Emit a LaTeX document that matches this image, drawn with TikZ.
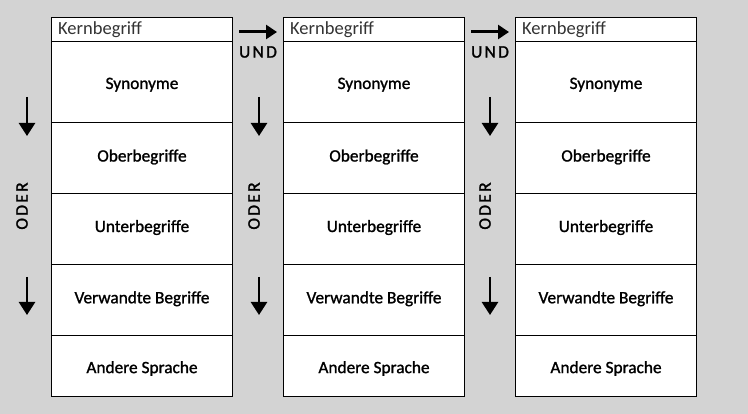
\documentclass[tikz,border=0pt]{standalone}
\usepackage{fontspec}
\setmainfont{Carlito}
\newfontfamily\semibold[FakeBold=1.2]{Carlito}
\newfontfamily\spacedfont[FakeBold=1.5,LetterSpace=13]{Carlito}
\usetikzlibrary{arrows.meta,calc}
\definecolor{bggray}{RGB}{211,211,211}
\tikzset{
  cell/.style={draw=black, line width=1pt, fill=white, anchor=north west, inner sep=0pt, minimum width=181pt},
  headcell/.style={cell, minimum height=23.5pt},
  celltext/.style={font=\semibold\fontsize{17.3}{19}\selectfont, inner sep=0pt},
  headtext/.style={anchor=west, inner sep=0pt, text=black!80, font=\fontsize{18.5}{20}\selectfont},
  rarrow/.style={line width=3pt, -{Triangle[length=11pt,width=14pt]}},
  darrow/.style={line width=2.6pt, -{Triangle[length=13pt,width=16pt]}},
  spaced/.style={font=\spacedfont\fontsize{17.5}{19}\selectfont, inner sep=0pt},
}
\begin{document}
\begin{tikzpicture}[x=1pt, y=-1pt]
\fill[bggray] (0,0) rectangle (748,414);
\useasboundingbox (0,0) rectangle (748,414);
\foreach \c/\xx in {a/51, b/283, c/515} {
  \node[headcell] (\c0) at (\xx,17.5) {};
  \node[headtext] (\c0t) at ([xshift=7pt,yshift=0.5pt]\c0.west) {Kernbegriff};
  \node[cell, minimum height=81.5pt] (\c1) at (\xx,41) {};
  \node[cell, minimum height=71pt] (\c2) at (\xx,122.5) {};
  \node[cell, minimum height=71pt] (\c3) at (\xx,193.5) {};
  \node[cell, minimum height=71.5pt] (\c4) at (\xx,264.5) {};
  \node[cell, minimum height=61pt] (\c5) at (\xx,335.5) {};
  \node[celltext] (\c1t) at ([yshift=-2.5pt]\c1.center) {Synonyme};
  \node[celltext] (\c2t) at ([yshift=1.5pt]\c2.center) {Oberbegriffe};
  \node[celltext] (\c3t) at ([yshift=2pt]\c3.center) {Unterbegriffe};
  \node[celltext] (\c4t) at ([yshift=2pt]\c4.center) {Verwandte Begriffe};
  \node[celltext] (\c5t) at ([yshift=-2pt]\c5.center) {Andere Sprache};
}
% right arrows with UND
\foreach \n/\xs/\xe in {p/239/277, q/471/509} {
  \coordinate (\n s) at (\xs,32);
  \coordinate (\n e) at (\xe,32);
  \draw[rarrow] (\n s) -- (\n e);
  \node[spaced] (\n u) at ($(\xs,52)!0.5!(\xe,52)$) {UND};
}
% down arrows with ODER
\foreach \n/\xx in {l/27, m/259, r/490} {
  \coordinate (\n 1s) at (\xx,97);
  \coordinate (\n 1e) at (\xx,136);
  \coordinate (\n 2s) at (\xx,277);
  \coordinate (\n 2e) at (\xx,315);
  \draw[darrow] (\n 1s) -- (\n 1e);
  \draw[darrow] (\n 2s) -- (\n 2e);
  \node[spaced, rotate=90] (\n o) at (\xx-5,206) {ODER};
}
\end{tikzpicture}
\end{document}
